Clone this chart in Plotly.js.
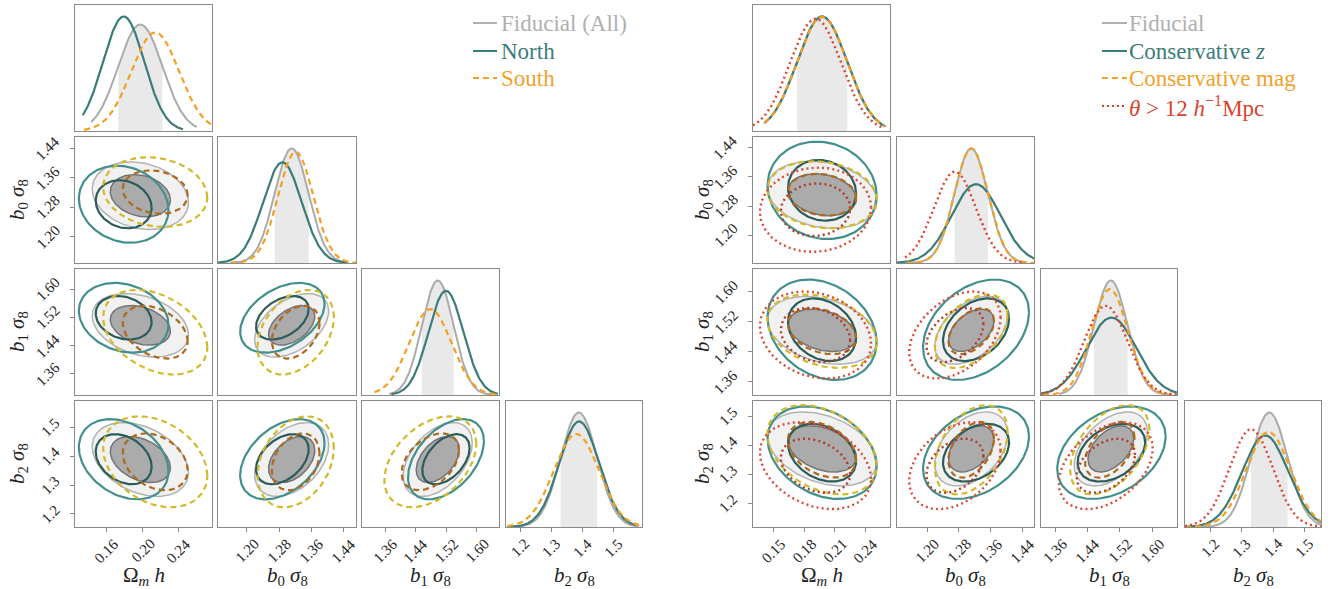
<!DOCTYPE html>
<html><head><meta charset="utf-8">
<script src="https://cdn.plot.ly/plotly-3.0.1.min.js"></script>
<style>html,body{margin:0;padding:0;background:#fff}#chart{width:1333px;height:589px}</style>
</head><body><div id="chart"></div>
<script>
// ---------------- DATA ----------------
// parameter order: Omega_m h, b0 sigma8, b1 sigma8, b2 sigma8
const paramTitles = ['Ω<sub><i>m</i></sub> <i>h</i>', '<i>b</i><sub>0</sub> <i>σ</i><sub>8</sub>', '<i>b</i><sub>1</sub> <i>σ</i><sub>8</sub>', '<i>b</i><sub>2</sub> <i>σ</i><sub>8</sub>'];
// correlation pairs order: (Ωh,b0) (Ωh,b1) (Ωh,b2) (b0,b1) (b0,b2) (b1,b2)

const fiducialMean  = [0.1975, 1.311, 1.4975, 1.388];
const fiducialSigma = [0.0245, 0.042, 0.0415, 0.0585];
const fiducialCorr  = [-0.20, -0.30, -0.35, 0.45, 0.40, 0.45];
const fiducialLo    = [0.1430, 1.160, 1.370, 1.160];
const fiducialHi    = [0.2600, 1.450, 1.640, 1.580];

const northMean  = [0.179, 1.288, 1.519, 1.389];
const northSigma = [0.0228, 0.0478, 0.0456, 0.0635];
const northCorr  = [-0.15, -0.20, -0.30, 0.40, 0.40, 0.45];
const northLo    = [0.1336, 1.128, 1.376, 1.160];
const northHi    = [0.2447, 1.450, 1.655, 1.570];

const southMean  = [0.214, 1.321, 1.478, 1.380];
const southSigma = [0.0265, 0.0433, 0.0553, 0.0720];
const southCorr  = [-0.15, -0.35, -0.30, 0.35, 0.30, 0.40];
const southLo    = [0.1352, 1.160, 1.332, 1.160];
const southHi    = [0.2768, 1.470, 1.656, 1.595];

const consZMean  = [0.1974, 1.323, 1.499, 1.375];
const consZSigma = [0.0244, 0.0610, 0.0614, 0.0731];
const consZCorr  = [-0.10, -0.25, -0.30, 0.35, 0.35, 0.35];
const consZLo    = [0.141, 1.124, 1.325, 1.119];
const consZHi    = [0.2585, 1.469, 1.661, 1.553];

const consMagMean  = [0.1974, 1.311, 1.495, 1.385];
const consMagSigma = [0.0245, 0.0420, 0.0449, 0.0705];
const consMagCorr  = [-0.15, -0.30, -0.35, 0.45, 0.40, 0.45];
const consMagLo    = [0.141, 1.150, 1.330, 1.119];
const consMagHi    = [0.2585, 1.469, 1.661, 1.553];

const thetaMean  = [0.191, 1.270, 1.485, 1.330];
const thetaSigma = [0.0249, 0.0527, 0.0532, 0.0686];
const thetaCorr  = [0.05, -0.20, -0.30, 0.40, 0.35, 0.40];
const thetaLo    = [0.130, 1.145, 1.325, 1.119];
const thetaHi    = [0.256, 1.440, 1.661, 1.553];

// contour levels in units of sigma (inner, outer)
const contourLevels = [1.36, 2.18];

const leftTickVals  = [[0.16,0.20,0.24],[1.20,1.28,1.36,1.44],[1.36,1.44,1.52,1.60],[1.2,1.3,1.4,1.5]];
const leftTickText  = [['0.16','0.20','0.24'],['1.20','1.28','1.36','1.44'],['1.36','1.44','1.52','1.60'],['1.2','1.3','1.4','1.5']];
const rightTickVals = [[0.15,0.18,0.21,0.24],[1.20,1.28,1.36,1.44],[1.36,1.44,1.52,1.60],[1.2,1.3,1.4,1.5]];
const rightTickText = [['0.15','0.18','0.21','0.24'],['1.20','1.28','1.36','1.44'],['1.36','1.44','1.52','1.60'],['1.2','1.3','1.4','1.5']];

const leftLegend  = ['Fiducial (All)', 'North', 'South'];
const rightLegend = ['Fiducial', 'Conservative <i>z</i>', 'Conservative mag', '<i>θ</i> > 12 <i>h</i><sup>−1</sup>Mpc'];

// ---------------- LAYOUT / STYLE ----------------
const W = 1333, H = 589;
const FONT = '"Liberation Serif", "DejaVu Serif", serif';
const leftRanges  = [[0.125,0.277],[1.129,1.470],[1.299,1.658],[1.155,1.590]];
const rightRanges = [[0.130,0.2637],[1.1246,1.4686],[1.325,1.661],[1.119,1.553]];
const leftCols  = [[75,212],[218,356],[362,499],[506,642]];
const rightCols = [[753,890],[897,1034],[1041,1177],[1185,1321]];
const rowsPx = [[5,131],[137,263],[269,395],[401,527]];
const pairs = [[0,1],[0,2],[0,3],[1,2],[1,3],[2,3]];

const S_DASH = '6px,4px', S_DOT = '2px,3.2px';
const styleFid   = {c1:'#ababab', w1:2, dash:'solid', band:'#e9e9e9', outerFill:'#f1f1f1', innerFill:'#ababab', outer:'#b2b2b2', inner:'#747474', w2:1.5};
const styleNorth = {c1:'#3b7c79', w1:2.2, dash:'solid', outer:'#42908d', inner:'#2a5c59', w2:2.2};
const styleSouth = {c1:'#f4a020', w1:2.2, dash:S_DASH, outer:'#d2ba2a', inner:'#ad6a1c', w2:2.2};
const styleTheta = {c1:'#e0432f', w1:2.4, dash:S_DOT, outer:'#dc4a36', inner:'#b23c2c', w2:2.4};

const fid = {mean:fiducialMean, sigma:fiducialSigma, corr:fiducialCorr, lo:fiducialLo, hi:fiducialHi, st:styleFid, fid:true};
const north = {mean:northMean, sigma:northSigma, corr:northCorr, lo:northLo, hi:northHi, st:styleNorth};
const south = {mean:southMean, sigma:southSigma, corr:southCorr, lo:southLo, hi:southHi, st:styleSouth};
const consZ = {mean:consZMean, sigma:consZSigma, corr:consZCorr, lo:consZLo, hi:consZHi, st:styleNorth};
const consMag = {mean:consMagMean, sigma:consMagSigma, corr:consMagCorr, lo:consMagLo, hi:consMagHi, st:styleSouth};
const theta = {mean:thetaMean, sigma:thetaSigma, corr:thetaCorr, lo:thetaLo, hi:thetaHi, st:styleTheta};

const figures = [
  {cols:leftCols, ranges:leftRanges, tv:leftTickVals, tt:leftTickText, sets:[fid, north, south], ytitleX:18},
  {cols:rightCols, ranges:rightRanges, tv:rightTickVals, tt:rightTickText, sets:[fid, consZ, consMag, theta], ytitleX:703}
];

const traces = [];
const layout = {width:W, height:H, margin:{l:0,r:0,t:0,b:0}, paper_bgcolor:'#fff', plot_bgcolor:'#fff', showlegend:false, annotations:[], shapes:[],
  font:{family:FONT}};

function pdf(x, m, s){ const z=(x-m)/s; return Math.exp(-0.5*z*z)/(s*Math.sqrt(2*Math.PI)); }
function curve(m, s, lo, hi){ const xs=[], ys=[]; const n=180; for(let k=0;k<=n;k++){ const x=lo+(hi-lo)*k/n; xs.push(x); ys.push(pdf(x,m,s)); } return {xs, ys}; }
function ellipse(mx,my,sx,sy,rho,r){ const xs=[],ys=[]; const n=140; const q=Math.sqrt(1-rho*rho);
  for(let k=0;k<=n;k++){ const t=2*Math.PI*k/n, c=Math.cos(t), si=Math.sin(t); xs.push(mx+r*sx*c); ys.push(my+r*sy*(rho*c+q*si)); }
  return {xs, ys}; }

const tickFont = {family:FONT, size:15, color:'#262626'};
let axisN = 0;
figures.forEach(fig => {
  for (let i=0;i<4;i++){
    for (let j=0;j<=i;j++){
      axisN++;
      const suf = axisN===1 ? '' : String(axisN);
      const xa = 'x'+suf, ya = 'y'+suf;
      const [x0,x1] = fig.cols[j], [y0,y1] = rowsPx[i];
      const showX = (i===3), showY = (j===0 && i>0);
      const baseAx = {showline:true, mirror:true, linecolor:'#8a8a8a', linewidth:1.3, showgrid:false, zeroline:false,
        ticklen:4, tickwidth:1, tickcolor:'#8a8a8a', showticklabels:false, fixedrange:true};
      layout['xaxis'+suf] = Object.assign({}, baseAx, {domain:[x0/W, x1/W], anchor:ya, range:fig.ranges[j],
        ticks: showX?'outside':'', tickvals: showX?fig.tv[j]:[]});
      let yr;
      if (i===j) {
        let pk = 0; fig.sets.forEach(d => { pk = Math.max(pk, 1/(d.sigma[i]*Math.sqrt(2*Math.PI))); });
        yr = [0, 1.1*pk];
      } else yr = fig.ranges[i];
      layout['yaxis'+suf] = Object.assign({}, baseAx, {domain:[1-y1/H, 1-y0/H], anchor:xa, range:yr,
        ticks: showY?'outside':'', tickvals: showY?fig.tv[i]:[]});

      if (showX) fig.tv[j].forEach((v,k) => layout.annotations.push({text:fig.tt[j][k], xref:xa, x:v, yref:'paper', y:1-(y1+6)/H,
          xanchor:'center', yanchor:'top', textangle:-45, showarrow:false, font:tickFont}));
      if (showY) fig.tv[i].forEach((v,k) => layout.annotations.push({text:fig.tt[i][k], xref:'paper', x:(x0-9)/W, yref:ya, y:v,
          xanchor:'right', yanchor:'middle', textangle:-45, showarrow:false, font:tickFont}));

      if (i===j) {
        fig.sets.forEach(d => {
          if (d.fid) {
            const b = curve(d.mean[i], d.sigma[i], d.mean[i]-d.sigma[i], d.mean[i]+d.sigma[i]);
            traces.push({type:'scatter', mode:'lines', x:b.xs, y:b.ys, xaxis:xa, yaxis:ya, line:{width:0, color:d.st.band}, fill:'tozeroy', fillcolor:d.st.band, hoverinfo:'skip'});
          }
        });
        fig.sets.forEach(d => {
          const c = curve(d.mean[i], d.sigma[i], d.lo[i], d.hi[i]);
          traces.push({type:'scatter', mode:'lines', x:c.xs, y:c.ys, xaxis:xa, yaxis:ya, line:{color:d.st.c1, width:d.st.w1, dash:d.st.dash}, hoverinfo:'skip'});
        });
      } else {
        const pi = pairs.findIndex(p => p[0]===j && p[1]===i);
        fig.sets.forEach(d => {
          const outer = ellipse(d.mean[j], d.mean[i], d.sigma[j], d.sigma[i], d.corr[pi], contourLevels[1]);
          const inner = ellipse(d.mean[j], d.mean[i], d.sigma[j], d.sigma[i], d.corr[pi], contourLevels[0]);
          if (d.fid) {
            traces.push({type:'scatter', mode:'lines', x:outer.xs, y:outer.ys, xaxis:xa, yaxis:ya, fill:'toself', fillcolor:d.st.outerFill, line:{color:d.st.outer, width:d.st.w2}, hoverinfo:'skip'});
            traces.push({type:'scatter', mode:'lines', x:inner.xs, y:inner.ys, xaxis:xa, yaxis:ya, fill:'toself', fillcolor:d.st.innerFill, line:{color:d.st.inner, width:d.st.w2}, hoverinfo:'skip'});
          } else {
            traces.push({type:'scatter', mode:'lines', x:outer.xs, y:outer.ys, xaxis:xa, yaxis:ya, line:{color:d.st.outer, width:d.st.w2, dash:d.st.dash}, hoverinfo:'skip'});
            traces.push({type:'scatter', mode:'lines', x:inner.xs, y:inner.ys, xaxis:xa, yaxis:ya, line:{color:d.st.inner, width:d.st.w2, dash:d.st.dash}, hoverinfo:'skip'});
          }
        });
      }
    }
    if (i>0) layout.annotations.push({text:paramTitles[i], xref:'paper', yref:'paper', x:fig.ytitleX/W, y:1-((rowsPx[i][0]+rowsPx[i][1])/2)/H,
      showarrow:false, textangle:-90, xanchor:'center', yanchor:'middle', font:{family:FONT, size:21, color:'#222'}});
  }
  for (let j=0;j<4;j++){
    const cx = (fig.cols[j][0]+fig.cols[j][1])/2;
    layout.annotations.push({text:paramTitles[j], xref:'paper', yref:'paper', x:cx/W, y:1-576/H, showarrow:false, xanchor:'center', yanchor:'middle', font:{family:FONT, size:21, color:'#222'}});
  }
});

function legendEntry(x0, x1, xt, y, text, color, dash){
  layout.shapes.push({type:'line', xref:'paper', yref:'paper', x0:x0/W, x1:x1/W, y0:1-y/H, y1:1-y/H, line:{color:color, width:2, dash:dash}});
  layout.annotations.push({text:text, xref:'paper', yref:'paper', x:xt/W, y:1-y/H, xanchor:'left', yanchor:'middle', showarrow:false, font:{family:FONT, size:23, color:color}});
}
legendEntry(473, 497, 499, 23, leftLegend[0], '#b0b0b0', 'solid');
legendEntry(473, 497, 499, 51, leftLegend[1], '#3b7c79', 'solid');
legendEntry(473, 497, 499, 78, leftLegend[2], '#f2a12a', '6px,4px');
legendEntry(1102, 1127, 1127, 23, rightLegend[0], '#b0b0b0', 'solid');
legendEntry(1102, 1127, 1127, 51, rightLegend[1], '#3b7c79', 'solid');
legendEntry(1102, 1127, 1127, 78, rightLegend[2], '#f2a12a', '6px,4px');
legendEntry(1102, 1127, 1127, 106, rightLegend[3], '#d9432f', '2px,3px');

Plotly.newPlot('chart', traces, layout, {staticPlot:true, displayModeBar:false});
</script>
</body></html>
